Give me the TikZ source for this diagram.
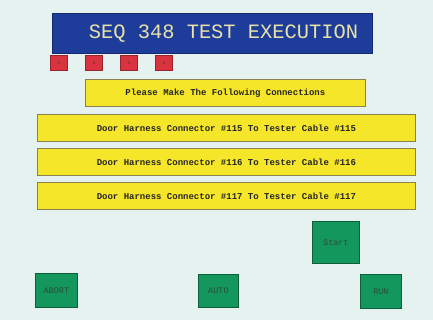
\documentclass[tikz,border=0pt]{standalone}
\usepackage{fontspec}
\setmonofont{Liberation Mono}
\definecolor{bgc}{HTML}{E6F2EF}
\definecolor{titleblue}{HTML}{1E3C9A}
\definecolor{titletext}{HTML}{E8E2A8}
\definecolor{yel}{HTML}{F6E629}
\definecolor{yelborder}{HTML}{8A8050}
\definecolor{redsq}{HTML}{D8333F}
\definecolor{grn}{HTML}{13975C}
\definecolor{grnborder}{HTML}{0D5E3A}
\definecolor{btntext}{HTML}{2E4A3A}
\begin{document}
\begin{tikzpicture}[x=1pt,y=-1pt,
  box/.style={draw=yelborder,line width=0.8pt,fill=yel,anchor=north west,inner sep=0pt,font=\ttfamily\bfseries\fontsize{9}{10}\selectfont,text=black!85},
  numsq/.style={draw=redsq!70!black,line width=0.5pt,fill=redsq,anchor=north west,inner sep=0pt,minimum width=17pt,minimum height=15pt,font=\ttfamily\fontsize{4}{4}\selectfont,text=black!80},
  btn/.style={draw=grnborder,line width=0.8pt,fill=grn,anchor=north west,inner sep=0pt,font=\ttfamily\fontsize{8.5}{9}\selectfont,text=btntext}]
\fill[bgc] (0,0) rectangle (433,320);
\useasboundingbox (0,0) rectangle (433,320);
\node[fill=titleblue,draw=titleblue!70!black,line width=0.5pt,anchor=north west,inner sep=0pt,minimum width=320pt,minimum height=40pt] (title) at (52,13) {};
\node[font=\ttfamily\fontsize{20.4}{20}\selectfont,text=titletext,inner sep=0pt] (titletxt) at (223.5,34) {SEQ 348 TEST EXECUTION};
\node[numsq] (s1) at (50,55) {1};
\node[numsq] (s2) at (85,55) {2};
\node[numsq] (s3) at (120,55) {3};
\node[numsq] (s4) at (155,55) {4};
\node[box,minimum width=280pt,minimum height=27pt] (please) at (85,79) {Please Make The Following Connections};
\node[box,minimum width=378pt,minimum height=27pt] (c115) at (37,114) {Door Harness Connector \#115 To Tester Cable \#115};
\node[box,minimum width=378pt,minimum height=27pt] (c116) at (37,148) {Door Harness Connector \#116 To Tester Cable \#116};
\node[box,minimum width=378pt,minimum height=27pt] (c117) at (37,182) {Door Harness Connector \#117 To Tester Cable \#117};
\node[btn,minimum width=47pt,minimum height=42pt] (start) at (312,221) {Start};
\node[btn,minimum width=42pt,minimum height=34pt] (abort) at (35,273) {ABORT};
\node[btn,minimum width=40pt,minimum height=33pt] (auto) at (198,274) {AUTO};
\node[btn,minimum width=41pt,minimum height=34pt] (run) at (360,274) {RUN};
\end{tikzpicture}
\end{document}
